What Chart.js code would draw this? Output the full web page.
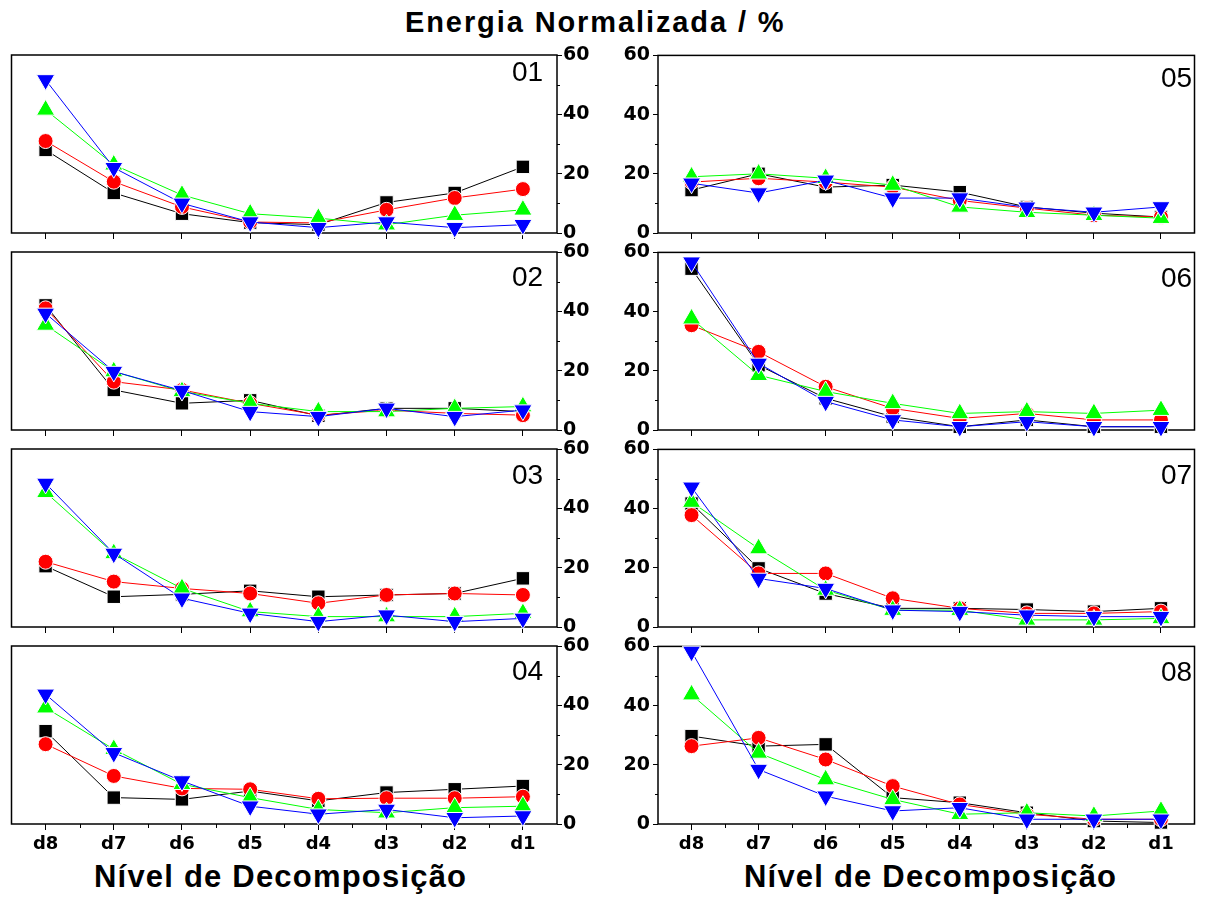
<!DOCTYPE html>
<html><head><meta charset="utf-8">
<script src="https://cdn.jsdelivr.net/npm/chart.js@4/dist/chart.umd.min.js"></script>
<style>
html,body{margin:0;padding:0;background:#fff;width:1206px;height:899px;overflow:hidden;}
canvas{position:absolute;}
.txt{position:absolute;white-space:nowrap;color:#000;font-family:"Liberation Sans",Arial,sans-serif;line-height:1;}
</style></head><body>
<div class="txt" style="left:405px;top:8px;font-size:29px;font-weight:bold;letter-spacing:1.9px;">Energia Normalizada / %</div>
<div class="txt" style="left:94px;top:861px;font-size:31px;font-weight:bold;letter-spacing:1.2px;">Nível de Decomposição</div>
<div class="txt" style="left:744px;top:861px;font-size:31px;font-weight:bold;letter-spacing:1.2px;">Nível de Decomposição</div>
<div id="holder"></div>
<script>
// ---- data ----
const categories = ['d8','d7','d6','d5','d4','d3','d2','d1'];
const yTicks = [0, 20, 40, 60];
const yMinorTicks = [10, 30, 50];
const panelNames = ['01','02','03','04','05','06','07','08'];

const p01Black = [28, 13.5, 6.5, 3.5, 2.8, 10.3, 13.5, 22.3];
const p01Red   = [31, 17.3, 8.8, 3.7, 3.4, 7.8, 11.8, 14.8];
const p01Green = [41.5, 23, 12.8, 6.5, 5, 2.8, 6, 7.8];
const p01Blue  = [51.6, 22, 10, 3.7, 1.8, 3.7, 1.8, 2.8];

const p02Black = [42, 13.5, 9, 10, 4.8, 7.3, 7.3, 6.2];
const p02Red   = [41, 16.3, 13.5, 9, 5, 6.7, 5.6, 5];
const p02Green = [35.4, 19.7, 13, 9, 6.2, 6.2, 7.3, 7.9];
const p02Blue  = [39.3, 19.7, 13.3, 6.2, 4.5, 7.3, 4.5, 6.7];

const p03Black = [20.5, 10.2, 11, 12.2, 10.2, 10.8, 11.3, 16.4];
const p03Red   = [22, 15.3, 13, 11.3, 8, 10.8, 11.3, 10.8];
const p03Green = [45.4, 24.8, 13, 5.2, 3.5, 3.5, 3.5, 4.6];
const p03Blue  = [48.4, 24.8, 9.7, 4.6, 1.8, 4, 1.8, 2.9];

const p04Black = [31.3, 8.9, 8.3, 11.1, 7.8, 10.6, 11.7, 12.8];
const p04Red   = [26.9, 16.2, 12, 11.7, 8.5, 8.7, 8.7, 9.2];
const p04Green = [39.2, 25.2, 13.4, 8.9, 4.9, 3.8, 5.5, 6];
const p04Blue  = [43.7, 24, 14.5, 6, 3.3, 4.9, 2.1, 2.7];

const p05Black = [14.5, 20, 15.5, 16.2, 13.8, 8.8, 6.7, 5.4];
const p05Red   = [17.2, 18.5, 17.2, 15.5, 11, 8.4, 6, 5.4];
const p05Green = [19, 20, 18.5, 16.2, 8.8, 7, 6, 5];
const p05Blue  = [16.8, 13.5, 17.8, 11.8, 11.8, 8.7, 7, 8.8];

const p06Black = [54.5, 21.9, 10.7, 4.5, 1.1, 3.4, 1.1, 1.1];
const p06Red   = [35.4, 26.4, 14.6, 7.3, 3.9, 5.6, 3.4, 3.4];
const p06Green = [37.6, 18.5, 13, 9, 5.6, 6.2, 5.6, 6.7];
const p06Blue  = [56.7, 22.5, 9.6, 3.4, 1.1, 2.8, 1.1, 1.1];

const p07Black = [41.7, 19.8, 11.3, 6.3, 6.3, 5.9, 5.2, 6.3];
const p07Red   = [37.8, 18.1, 18.1, 9.7, 6.3, 4.6, 4.6, 5.2];
const p07Green = [42.2, 26.5, 12.5, 5.7, 5.7, 2.4, 2.4, 2.9];
const p07Blue  = [47.2, 16.4, 13, 5.7, 5.2, 4, 3.5, 3.5];

const p08Black = [29.7, 26.3, 26.9, 8.9, 7.2, 3.8, 1, 0.5];
const p08Red   = [26.3, 29.1, 21.8, 12.8, 6.6, 3.3, 1.6, 1.6];
const p08Green = [43.7, 24, 15, 8.3, 3.3, 3.8, 2.7, 4.4];
const p08Blue  = [58.3, 18.4, 9.4, 4.4, 5.5, 1.6, 1.6, 1.6];

const panelData = [
  [p01Black, p01Red, p01Green, p01Blue],
  [p02Black, p02Red, p02Green, p02Blue],
  [p03Black, p03Red, p03Green, p03Blue],
  [p04Black, p04Red, p04Green, p04Blue],
  [p05Black, p05Red, p05Green, p05Blue],
  [p06Black, p06Red, p06Green, p06Blue],
  [p07Black, p07Red, p07Green, p07Blue],
  [p08Black, p08Red, p08Green, p08Blue]
];

// ---- layout ----
const plotTops = [55, 252, 449, 646];
const plotH = 178;
const padTop = 14;
const labelTopOffsets = [7, 15, 16, 15, 13, 16, 16, 16];

const tickFont = {family: 'DejaVu Sans', weight: 'bold', size: 19};

const boxPlugin = {
  id: 'box',
  beforeDatasetsDraw(chart) {
    const {ctx, chartArea: a} = chart;
    ctx.save();
    ctx.strokeStyle = '#000';
    ctx.lineWidth = 1.5;
    ctx.strokeRect(a.left, a.top, a.right - a.left, a.bottom - a.top);
    ctx.restore();
  },
  afterDraw(chart, args, opts) {
    const {ctx, chartArea: a, scales} = chart;
    ctx.save();
    ctx.strokeStyle = '#000';
    ctx.lineWidth = 1;
    yMinorTicks.forEach(v => {
      const py = Math.round(scales.y.getPixelForValue(v)) + 0.5;
      ctx.beginPath();
      if (opts.side === 'right') { ctx.moveTo(a.right, py); ctx.lineTo(a.right + 3, py); }
      else { ctx.moveTo(a.left, py); ctx.lineTo(a.left - 3, py); }
      ctx.stroke();
    });
    if (opts.bottom) {
      for (let i = 0; i < categories.length - 1; i++) {
        const px = Math.round((scales.x.getPixelForValue(i) + scales.x.getPixelForValue(i + 1)) / 2) + 0.5;
        ctx.beginPath();
        ctx.moveTo(px, a.bottom);
        ctx.lineTo(px, a.bottom + 4);
        ctx.stroke();
      }
    }
    ctx.restore();
  }
};

function ds(values, color, style, radius, rotation, order) {
  return {
    data: values,
    borderColor: color,
    backgroundColor: color,
    borderWidth: 1,
    tension: 0,
    pointStyle: style,
    pointRadius: radius,
    pointRotation: rotation,
    pointBackgroundColor: color,
    pointBorderColor: '#ffffff',
    pointBorderWidth: 1,
    order: order,
    clip: false
  };
}

const holder = document.getElementById('holder');
for (let p = 0; p < 8; p++) {
  const col = p < 4 ? 0 : 1;
  const row = p % 4;
  const bottom = row === 3;
  const side = col === 0 ? 'right' : 'left';
  const xH = bottom ? 40 : 16;
  const cv = document.createElement('canvas');
  const w = col === 0 ? 600 : 606;
  const h = padTop + plotH + xH;
  cv.width = w; cv.height = h;
  cv.style.left = (col === 0 ? 0 : 600) + 'px';
  cv.style.top = (plotTops[row] - padTop) + 'px';
  cv.style.width = w + 'px'; cv.style.height = h + 'px';
  holder.appendChild(cv);

  const lbl = document.createElement('div');
  lbl.className = 'txt';
  lbl.textContent = panelNames[p];
  lbl.style.fontSize = '28px';
  lbl.style.left = (col === 0 ? 512 : 1161) + 'px';
  lbl.style.top = (plotTops[row] + labelTopOffsets[p] - 4) + 'px';
  document.body.appendChild(lbl);

  const sets = panelData[p];
  new Chart(cv, {
    type: 'line',
    data: {
      labels: categories,
      datasets: [
        ds(sets[0], '#000000', 'rect', 9.5, 0, 4),
        ds(sets[1], '#ff0000', 'circle', 7.5, 0, 3),
        ds(sets[2], '#00ff00', 'triangle', 10.5, 0, 2),
        ds(sets[3], '#0000ff', 'triangle', 10.5, 180, 1)
      ]
    },
    options: {
      responsive: false,
      animation: false,
      events: [],
      devicePixelRatio: 1,
      layout: {padding: {top: padTop, left: col === 0 ? 8 : 0, right: col === 0 ? 0 : 2, bottom: 0}},
      plugins: {legend: {display: false}, tooltip: {enabled: false}, box: {side: side, bottom: bottom}},
      scales: {
        x: {
          type: 'category',
          offset: true,
          border: {display: false},
          grid: {display: true, offset: false, drawOnChartArea: false, drawTicks: true, tickLength: 6, color: '#000', lineWidth: 1},
          ticks: {display: bottom, font: {family: 'DejaVu Sans', weight: 'bold', size: 18}, color: '#000', padding: 4, maxRotation: 0, autoSkip: false},
          afterFit(s) { s.height = xH; }
        },
        y: {
          position: side,
          min: 0, max: 60,
          border: {display: false},
          grid: {drawOnChartArea: false, drawTicks: true, tickLength: 5, color: '#000', lineWidth: 1},
          ticks: {
            font: tickFont, color: '#000', padding: side === 'right' ? 1 : 3,
            callback: (v) => yTicks.includes(v) ? String(v) : null,
            stepSize: 20
          },
          afterFit(s) { s.width = col === 0 ? 43 : 58; }
        }
      }
    },
    plugins: [boxPlugin]
  });
}
</script>
</body></html>
